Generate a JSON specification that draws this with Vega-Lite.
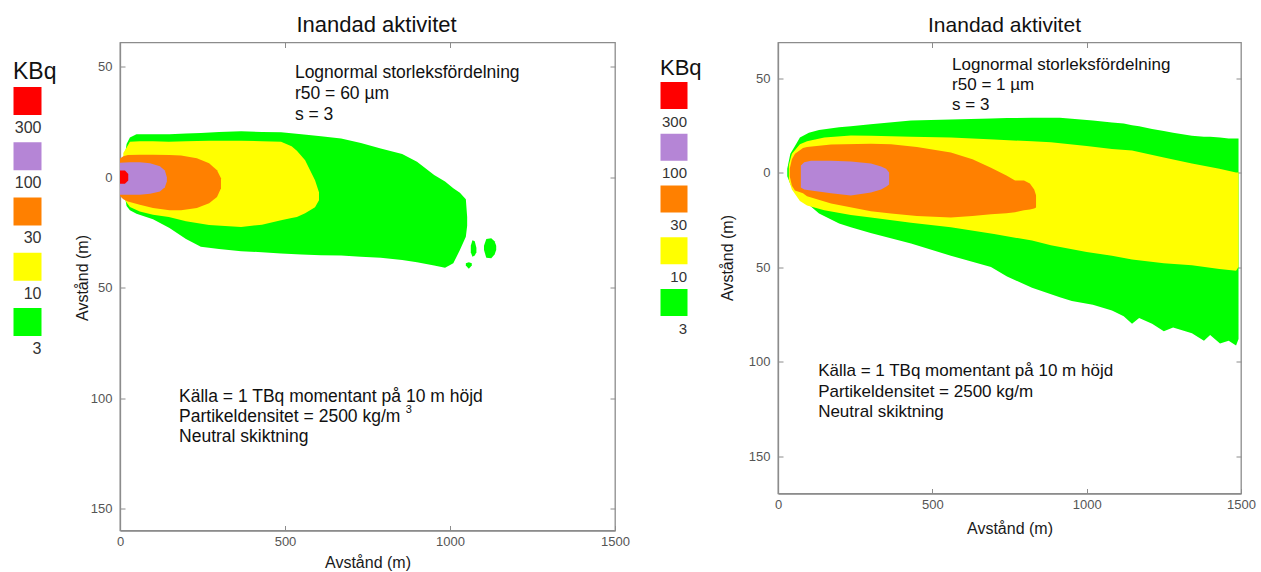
{
  "$schema": "https://vega.github.io/schema/vega-lite/v6.json",
  "background": "white",
  "padding": {"left": 0, "top": 12.5, "right": 0, "bottom": 0},
  "config": {
    "font": "Liberation Sans",
    "view": {"stroke": "#8c8c8c", "strokeWidth": 1.3},
    "axis": {"grid": false, "domainColor": "#8c8c8c", "domainWidth": 1.3, "tickColor": "#8c8c8c", "tickSize": -5, "labelColor": "#555555", "labelFontSize": 13, "titleFontSize": 16, "titleFontWeight": "normal", "titleColor": "#1a1a1a", "labelOverlap": false}
  },
  "datasets": {
    "legend": [
      {"level": "300", "rank": 0},
      {"level": "100", "rank": 1},
      {"level": "30", "rank": 2},
      {"level": "10", "rank": 3},
      {"level": "3", "rank": 4}
    ],
    "contours": [
      {"p":"L","lv":"3","part":"a","x":15,"lo":-10,"hi":9},
      {"p":"L","lv":"3","part":"a","x":20,"lo":-15,"hi":13},
      {"p":"L","lv":"3","part":"a","x":30,"lo":-18,"hi":15},
      {"p":"L","lv":"3","part":"a","x":50,"lo":-19.5,"hi":16.5},
      {"p":"L","lv":"3","part":"a","x":100,"lo":-19.5,"hi":19},
      {"p":"L","lv":"3","part":"a","x":150,"lo":-19.5,"hi":23},
      {"p":"L","lv":"3","part":"a","x":200,"lo":-19.8,"hi":28},
      {"p":"L","lv":"3","part":"a","x":245,"lo":-20,"hi":31.5},
      {"p":"L","lv":"3","part":"a","x":300,"lo":-20.5,"hi":32.5},
      {"p":"L","lv":"3","part":"a","x":367,"lo":-20.8,"hi":33.5},
      {"p":"L","lv":"3","part":"a","x":430,"lo":-20.5,"hi":34},
      {"p":"L","lv":"3","part":"a","x":488,"lo":-20.3,"hi":34.5},
      {"p":"L","lv":"3","part":"a","x":550,"lo":-19.5,"hi":35},
      {"p":"L","lv":"3","part":"a","x":609,"lo":-18.5,"hi":35.3},
      {"p":"L","lv":"3","part":"a","x":670,"lo":-17.5,"hi":35.5},
      {"p":"L","lv":"3","part":"a","x":730,"lo":-15.5,"hi":36},
      {"p":"L","lv":"3","part":"a","x":790,"lo":-13,"hi":36.5},
      {"p":"L","lv":"3","part":"a","x":855,"lo":-10.5,"hi":37.5},
      {"p":"L","lv":"3","part":"a","x":900,"lo":-7,"hi":38.5},
      {"p":"L","lv":"3","part":"a","x":952,"lo":-1,"hi":40},
      {"p":"L","lv":"3","part":"a","x":985,"lo":2,"hi":41},
      {"p":"L","lv":"3","part":"a","x":1010,"lo":5,"hi":39},
      {"p":"L","lv":"3","part":"a","x":1030,"lo":7,"hi":33},
      {"p":"L","lv":"3","part":"a","x":1048,"lo":10,"hi":27},
      {"p":"L","lv":"3","part":"a","x":1052,"lo":18,"hi":22},
      {"p":"L","lv":"3","part":"b","x":1063,"lo":31,"hi":34},
      {"p":"L","lv":"3","part":"b","x":1068,"lo":28.5,"hi":36},
      {"p":"L","lv":"3","part":"b","x":1075,"lo":29,"hi":35.5},
      {"p":"L","lv":"3","part":"b","x":1080,"lo":32,"hi":34},
      {"p":"L","lv":"3","part":"c","x":1103,"lo":31,"hi":33},
      {"p":"L","lv":"3","part":"c","x":1110,"lo":28,"hi":36.5},
      {"p":"L","lv":"3","part":"c","x":1125,"lo":27.7,"hi":36.7},
      {"p":"L","lv":"3","part":"c","x":1135,"lo":29,"hi":35},
      {"p":"L","lv":"3","part":"c","x":1140,"lo":31,"hi":33},
      {"p":"L","lv":"3","part":"d","x":1048,"lo":39,"hi":40},
      {"p":"L","lv":"3","part":"d","x":1057,"lo":38.5,"hi":41.5},
      {"p":"L","lv":"3","part":"d","x":1066,"lo":39,"hi":40},
      {"p":"L","lv":"10","part":"a","x":10,"lo":-11,"hi":9},
      {"p":"L","lv":"10","part":"a","x":20,"lo":-13.5,"hi":11.5},
      {"p":"L","lv":"10","part":"a","x":30,"lo":-16,"hi":13.5},
      {"p":"L","lv":"10","part":"a","x":60,"lo":-16.3,"hi":15.5},
      {"p":"L","lv":"10","part":"a","x":100,"lo":-16.3,"hi":17},
      {"p":"L","lv":"10","part":"a","x":148,"lo":-16,"hi":18},
      {"p":"L","lv":"10","part":"a","x":200,"lo":-16.3,"hi":20},
      {"p":"L","lv":"10","part":"a","x":270,"lo":-16.5,"hi":21.7},
      {"p":"L","lv":"10","part":"a","x":367,"lo":-16.5,"hi":22.6},
      {"p":"L","lv":"10","part":"a","x":430,"lo":-16.3,"hi":21.5},
      {"p":"L","lv":"10","part":"a","x":488,"lo":-16,"hi":19.5},
      {"p":"L","lv":"10","part":"a","x":520,"lo":-14,"hi":18.5},
      {"p":"L","lv":"10","part":"a","x":536,"lo":-12,"hi":18},
      {"p":"L","lv":"10","part":"a","x":561,"lo":-7.7,"hi":16.3},
      {"p":"L","lv":"10","part":"a","x":591,"lo":1.4,"hi":13.6},
      {"p":"L","lv":"10","part":"a","x":603,"lo":6.8,"hi":10.4},
      {"p":"L","lv":"30","part":"a","x":0,"lo":-8.5,"hi":8.5},
      {"p":"L","lv":"30","part":"a","x":10,"lo":-9.5,"hi":10},
      {"p":"L","lv":"30","part":"a","x":24,"lo":-10,"hi":11},
      {"p":"L","lv":"30","part":"a","x":60,"lo":-10.2,"hi":12.5},
      {"p":"L","lv":"30","part":"a","x":100,"lo":-10.2,"hi":14},
      {"p":"L","lv":"30","part":"a","x":150,"lo":-10,"hi":15},
      {"p":"L","lv":"30","part":"a","x":185,"lo":-9.8,"hi":15},
      {"p":"L","lv":"30","part":"a","x":233,"lo":-8.6,"hi":14},
      {"p":"L","lv":"30","part":"a","x":270,"lo":-6.3,"hi":11.8},
      {"p":"L","lv":"30","part":"a","x":294,"lo":-3.2,"hi":9},
      {"p":"L","lv":"30","part":"a","x":306,"lo":0.5,"hi":5},
      {"p":"L","lv":"100","part":"a","x":0,"lo":-6.5,"hi":8},
      {"p":"L","lv":"100","part":"a","x":30,"lo":-6.8,"hi":8},
      {"p":"L","lv":"100","part":"a","x":60,"lo":-6.8,"hi":8},
      {"p":"L","lv":"100","part":"a","x":91,"lo":-6.3,"hi":7.5},
      {"p":"L","lv":"100","part":"a","x":121,"lo":-5,"hi":6.5},
      {"p":"L","lv":"100","part":"a","x":136,"lo":-3,"hi":4.5},
      {"p":"L","lv":"100","part":"a","x":142,"lo":0,"hi":2},
      {"p":"L","lv":"300","part":"a","x":0,"lo":-3,"hi":3},
      {"p":"L","lv":"300","part":"a","x":15,"lo":-3,"hi":3},
      {"p":"L","lv":"300","part":"a","x":25,"lo":-1.5,"hi":1.5},
      {"p":"R","lv":"3","part":"a","x":30,"lo":-2,"hi":2},
      {"p":"R","lv":"3","part":"a","x":40,"lo":-10,"hi":6},
      {"p":"R","lv":"3","part":"a","x":55,"lo":-14,"hi":10},
      {"p":"R","lv":"3","part":"a","x":71,"lo":-18.5,"hi":13},
      {"p":"R","lv":"3","part":"a","x":100,"lo":-21,"hi":17},
      {"p":"R","lv":"3","part":"a","x":133,"lo":-22.5,"hi":21.7},
      {"p":"R","lv":"3","part":"a","x":198,"lo":-24,"hi":27},
      {"p":"R","lv":"3","part":"a","x":236,"lo":-24.5,"hi":29},
      {"p":"R","lv":"3","part":"a","x":300,"lo":-25.5,"hi":32},
      {"p":"R","lv":"3","part":"a","x":431,"lo":-27.5,"hi":37.6},
      {"p":"R","lv":"3","part":"a","x":560,"lo":-28,"hi":44},
      {"p":"R","lv":"3","part":"a","x":690,"lo":-28.6,"hi":50},
      {"p":"R","lv":"3","part":"a","x":742,"lo":-28.8,"hi":55},
      {"p":"R","lv":"3","part":"a","x":823,"lo":-29,"hi":61},
      {"p":"R","lv":"3","part":"a","x":913,"lo":-29,"hi":66},
      {"p":"R","lv":"3","part":"a","x":952,"lo":-28.5,"hi":68},
      {"p":"R","lv":"3","part":"a","x":1020,"lo":-27.5,"hi":70},
      {"p":"R","lv":"3","part":"a","x":1082,"lo":-26.5,"hi":73},
      {"p":"R","lv":"3","part":"a","x":1120,"lo":-26,"hi":76},
      {"p":"R","lv":"3","part":"a","x":1147,"lo":-25,"hi":80},
      {"p":"R","lv":"3","part":"a","x":1170,"lo":-24.5,"hi":77},
      {"p":"R","lv":"3","part":"a","x":1212,"lo":-23,"hi":80},
      {"p":"R","lv":"3","part":"a","x":1250,"lo":-22,"hi":84},
      {"p":"R","lv":"3","part":"a","x":1280,"lo":-21,"hi":82},
      {"p":"R","lv":"3","part":"a","x":1341,"lo":-19.5,"hi":85},
      {"p":"R","lv":"3","part":"a","x":1380,"lo":-19,"hi":89},
      {"p":"R","lv":"3","part":"a","x":1400,"lo":-19,"hi":86},
      {"p":"R","lv":"3","part":"a","x":1432,"lo":-18.5,"hi":90.5},
      {"p":"R","lv":"3","part":"a","x":1460,"lo":-18,"hi":89},
      {"p":"R","lv":"3","part":"a","x":1484,"lo":-18,"hi":91.5},
      {"p":"R","lv":"3","part":"a","x":1492,"lo":-18,"hi":88},
      {"p":"R","lv":"10","part":"a","x":35,"lo":-4,"hi":4},
      {"p":"R","lv":"10","part":"a","x":45,"lo":-10,"hi":9},
      {"p":"R","lv":"10","part":"a","x":71,"lo":-15,"hi":15},
      {"p":"R","lv":"10","part":"a","x":94,"lo":-16.5,"hi":17.5},
      {"p":"R","lv":"10","part":"a","x":150,"lo":-18.5,"hi":20},
      {"p":"R","lv":"10","part":"a","x":236,"lo":-19.6,"hi":22.5},
      {"p":"R","lv":"10","part":"a","x":301,"lo":-19.5,"hi":23.8},
      {"p":"R","lv":"10","part":"a","x":431,"lo":-19,"hi":26.5},
      {"p":"R","lv":"10","part":"a","x":560,"lo":-18.5,"hi":29},
      {"p":"R","lv":"10","part":"a","x":700,"lo":-17.5,"hi":32.5},
      {"p":"R","lv":"10","part":"a","x":823,"lo":-16.5,"hi":36},
      {"p":"R","lv":"10","part":"a","x":884,"lo":-16,"hi":38.5},
      {"p":"R","lv":"10","part":"a","x":1000,"lo":-14,"hi":42},
      {"p":"R","lv":"10","part":"a","x":1082,"lo":-12.5,"hi":44},
      {"p":"R","lv":"10","part":"a","x":1147,"lo":-11.6,"hi":46},
      {"p":"R","lv":"10","part":"a","x":1250,"lo":-8,"hi":48},
      {"p":"R","lv":"10","part":"a","x":1341,"lo":-4.8,"hi":49},
      {"p":"R","lv":"10","part":"a","x":1430,"lo":-2,"hi":51},
      {"p":"R","lv":"10","part":"a","x":1484,"lo":0,"hi":52},
      {"p":"R","lv":"10","part":"a","x":1492,"lo":0,"hi":50},
      {"p":"R","lv":"30","part":"a","x":38,"lo":-2,"hi":2},
      {"p":"R","lv":"30","part":"a","x":45,"lo":-7,"hi":7},
      {"p":"R","lv":"30","part":"a","x":55,"lo":-10,"hi":9.5},
      {"p":"R","lv":"30","part":"a","x":81,"lo":-13,"hi":11},
      {"p":"R","lv":"30","part":"a","x":94,"lo":-13.5,"hi":12.5},
      {"p":"R","lv":"30","part":"a","x":172,"lo":-14.8,"hi":16.4},
      {"p":"R","lv":"30","part":"a","x":301,"lo":-15.3,"hi":20.5},
      {"p":"R","lv":"30","part":"a","x":366,"lo":-15,"hi":21.7},
      {"p":"R","lv":"30","part":"a","x":450,"lo":-13.5,"hi":23},
      {"p":"R","lv":"30","part":"a","x":560,"lo":-10.6,"hi":23.8},
      {"p":"R","lv":"30","part":"a","x":630,"lo":-7,"hi":23},
      {"p":"R","lv":"30","part":"a","x":690,"lo":-2.6,"hi":22},
      {"p":"R","lv":"30","part":"a","x":740,"lo":1.5,"hi":21.5},
      {"p":"R","lv":"30","part":"a","x":768,"lo":4.2,"hi":21},
      {"p":"R","lv":"30","part":"a","x":797,"lo":4.2,"hi":20},
      {"p":"R","lv":"30","part":"a","x":816,"lo":5.8,"hi":19.5},
      {"p":"R","lv":"30","part":"a","x":830,"lo":9,"hi":19},
      {"p":"R","lv":"30","part":"a","x":836,"lo":12,"hi":18.5},
      {"p":"R","lv":"100","part":"a","x":74,"lo":-3.7,"hi":7.9},
      {"p":"R","lv":"100","part":"a","x":85,"lo":-5.5,"hi":9},
      {"p":"R","lv":"100","part":"a","x":107,"lo":-6.3,"hi":9.5},
      {"p":"R","lv":"100","part":"a","x":172,"lo":-6.3,"hi":11},
      {"p":"R","lv":"100","part":"a","x":236,"lo":-5.8,"hi":12.2},
      {"p":"R","lv":"100","part":"a","x":301,"lo":-4.8,"hi":10.6},
      {"p":"R","lv":"100","part":"a","x":334,"lo":-3.2,"hi":9},
      {"p":"R","lv":"100","part":"a","x":350,"lo":-2,"hi":7.5},
      {"p":"R","lv":"100","part":"a","x":360,"lo":0,"hi":6.3}
    ]
  },
  "bounds": "flush",
  "spacing": 20,
  "hconcat": [
    {
      "width": 100, "height": 350,
      "view": {"stroke": null},
      "layer": [
        {
          "data": {"name": "legend"},
          "mark": {"type": "square", "size": 784, "filled": true, "opacity": 1, "strokeWidth": 0},
          "encoding": {
            "x": {"datum": 0, "type": "quantitative", "scale": {"domain": [-0.275, 0.725], "nice": false, "zero": false}, "axis": null},
            "y": {"field": "rank", "type": "quantitative", "scale": {"domain": [-1.0588, 5.276], "reverse": true, "nice": false, "zero": false}, "axis": null},
            "color": {"field": "level", "type": "nominal", "scale": {"domain": ["300", "100", "30", "10", "3"], "range": ["#ff0000", "#b585d6", "#ff8000", "#ffff00", "#00ff00"]}, "legend": null}
          }
        },
        {
          "data": {"name": "legend"},
          "mark": {"type": "text", "align": "right", "baseline": "middle", "dx": 14, "dy": 27, "fontSize": 16, "color": "#333333"},
          "encoding": {
            "x": {"datum": 0, "type": "quantitative"},
            "y": {"field": "rank", "type": "quantitative"},
            "text": {"field": "level", "type": "nominal"}
          }
        },
        {
          "data": {"values": [{"unit": "KBq"}]},
          "mark": {"type": "text", "align": "left", "baseline": "middle", "dx": -14.5, "fontSize": 23, "color": "#111111"},
          "encoding": {
            "x": {"datum": 0, "type": "quantitative"},
            "y": {"datum": -0.516, "type": "quantitative"},
            "text": {"field": "unit", "type": "nominal"}
          }
        }
      ]
    },
    {
      "width": 495, "height": 488,
      "title": {"text": "Inandad aktivitet", "fontSize": 22, "fontWeight": "normal", "color": "#111111", "offset": 5, "dx": 9},
      "data": {"name": "contours"},
      "transform": [{"filter": "datum.p == 'L'"}],
      "resolve": {"axis": {"x": "independent", "y": "independent"}},
      "layer": [
        {
          "transform": [{"filter": "datum.lv == '3'"}],
          "mark": {"type": "area", "interpolate": "linear"},
          "encoding": {
            "x": {"field": "x", "type": "quantitative", "scale": {"domain": [0, 1500], "nice": false, "zero": false},
                  "axis": {"orient": "bottom", "values": [0, 500, 1000, 1500], "format": "d", "labelFlush": false, "labelPadding": 10, "title": "Avstånd (m)", "titleY": 32, "titleBaseline": "middle"}},
            "y": {"field": "lo", "type": "quantitative", "stack": null, "scale": {"domain": [-61, 160], "reverse": true, "nice": false, "zero": false},
                  "axis": {"orient": "left", "values": [-50, 0, 50, 100, 150], "labelExpr": "abs(datum.value)", "labelPadding": 13, "title": "Avstånd (m)", "titleX": -38, "titleY": 235, "titleBaseline": "middle", "titleAlign": "center"}},
            "y2": {"field": "hi"},
            "detail": {"field": "part"},
            "color": {"field": "lv", "type": "nominal", "scale": {"domain": ["300", "100", "30", "10", "3"], "range": ["#ff0000", "#b585d6", "#ff8000", "#ffff00", "#00ff00"]}, "legend": null}
          }
        },
        {
          "transform": [{"filter": "datum.lv == '10'"}],
          "mark": {"type": "area", "interpolate": "linear"},
          "encoding": {
            "x": {"field": "x", "type": "quantitative", "axis": null},
            "y": {"field": "lo", "type": "quantitative", "stack": null, "axis": null},
            "y2": {"field": "hi"},
            "color": {"field": "lv", "type": "nominal", "legend": null}
          }
        },
        {
          "transform": [{"filter": "datum.lv == '30'"}],
          "mark": {"type": "area", "interpolate": "linear"},
          "encoding": {
            "x": {"field": "x", "type": "quantitative", "axis": null},
            "y": {"field": "lo", "type": "quantitative", "stack": null, "axis": null},
            "y2": {"field": "hi"},
            "color": {"field": "lv", "type": "nominal", "legend": null}
          }
        },
        {
          "transform": [{"filter": "datum.lv == '100'"}],
          "mark": {"type": "area", "interpolate": "linear"},
          "encoding": {
            "x": {"field": "x", "type": "quantitative", "axis": null},
            "y": {"field": "lo", "type": "quantitative", "stack": null, "axis": null},
            "y2": {"field": "hi"},
            "color": {"field": "lv", "type": "nominal", "legend": null}
          }
        },
        {
          "transform": [{"filter": "datum.lv == '300'"}],
          "mark": {"type": "area", "interpolate": "linear"},
          "encoding": {
            "x": {"field": "x", "type": "quantitative", "axis": null},
            "y": {"field": "lo", "type": "quantitative", "stack": null, "axis": null},
            "y2": {"field": "hi"},
            "color": {"field": "lv", "type": "nominal", "legend": null}
          }
        },
        {
          "data": {"values": [{}]},
          "mark": {"type": "text", "text": ["Lognormal storleksfördelning", "r50 = 60 µm", "s = 3"], "align": "left", "baseline": "alphabetic", "fontSize": 17.5, "lineHeight": 21, "color": "#111111"},
          "encoding": {
            "x": {"datum": 530, "type": "quantitative", "axis": {"orient": "top", "values": [500, 1000], "labels": false, "domain": false, "title": null}},
            "y": {"datum": -44.7, "type": "quantitative", "axis": {"orient": "right", "values": [-50, 0, 50, 100, 150], "labels": false, "domain": false, "title": null}}
          }
        },
        {
          "data": {"values": [{}]},
          "mark": {"type": "text", "text": ["Källa = 1 TBq momentant på 10 m höjd", "Partikeldensitet = 2500 kg/m", "Neutral skiktning"], "align": "left", "baseline": "alphabetic", "fontSize": 17.5, "lineHeight": 20, "color": "#111111"},
          "encoding": {
            "x": {"datum": 179, "type": "quantitative", "axis": null},
            "y": {"datum": 101.6, "type": "quantitative", "axis": null}
          }
        },
        {
          "data": {"values": [{}]},
          "mark": {"type": "text", "text": "3", "align": "left", "baseline": "alphabetic", "fontSize": 11, "color": "#111111"},
          "encoding": {
            "x": {"datum": 866, "type": "quantitative", "axis": null},
            "y": {"datum": 107, "type": "quantitative", "axis": null}
          }
        }
      ]
    },
    {
      "width": 123, "height": 350,
      "view": {"stroke": null},
      "layer": [
        {
          "data": {"name": "legend"},
          "mark": {"type": "square", "size": 729, "filled": true, "opacity": 1, "strokeWidth": 0},
          "encoding": {
            "x": {"datum": 0, "type": "quantitative", "scale": {"domain": [-0.3171, 0.6829], "nice": false, "zero": false}, "axis": null},
            "y": {"field": "rank", "type": "quantitative", "scale": {"domain": [-1.0242, 5.7391], "reverse": true, "nice": false, "zero": false}, "axis": null},
            "color": {"field": "level", "type": "nominal", "scale": {"domain": ["300", "100", "30", "10", "3"], "range": ["#ff0000", "#b585d6", "#ff8000", "#ffff00", "#00ff00"]}, "legend": null}
          }
        },
        {
          "data": {"name": "legend"},
          "mark": {"type": "text", "align": "right", "baseline": "middle", "dx": 13, "dy": 26, "fontSize": 15, "color": "#333333"},
          "encoding": {
            "x": {"datum": 0, "type": "quantitative"},
            "y": {"field": "rank", "type": "quantitative"},
            "text": {"field": "level", "type": "nominal"}
          }
        },
        {
          "data": {"values": [{"unit": "KBq"}]},
          "mark": {"type": "text", "align": "left", "baseline": "middle", "dx": -14, "fontSize": 22, "color": "#111111"},
          "encoding": {
            "x": {"datum": 0, "type": "quantitative"},
            "y": {"datum": -0.522, "type": "quantitative"},
            "text": {"field": "unit", "type": "nominal"}
          }
        }
      ]
    },
    {
      "width": 463, "height": 451,
      "title": {"text": "Inandad aktivitet", "fontSize": 21, "fontWeight": "normal", "color": "#111111", "offset": 6, "dx": -5},
      "data": {"name": "contours"},
      "transform": [{"filter": "datum.p == 'R'"}],
      "resolve": {"axis": {"x": "independent", "y": "independent"}},
      "layer": [
        {
          "transform": [{"filter": "datum.lv == '3'"}],
          "mark": {"type": "area", "interpolate": "linear"},
          "encoding": {
            "x": {"field": "x", "type": "quantitative", "scale": {"domain": [0, 1500], "nice": false, "zero": false},
                  "axis": {"orient": "bottom", "values": [0, 500, 1000, 1500], "format": "d", "labelFlush": false, "labelPadding": 10, "title": "Avstånd (m)", "titleY": 35, "titleBaseline": "middle"}},
            "y": {"field": "lo", "type": "quantitative", "stack": null, "scale": {"domain": [-68.8, 169.8], "reverse": true, "nice": false, "zero": false},
                  "axis": {"orient": "left", "values": [-50, 0, 50, 100, 150], "labelExpr": "abs(datum.value)", "labelPadding": 13, "title": "Avstånd (m)", "titleX": -51, "titleY": 215, "titleBaseline": "middle", "titleAlign": "center"}},
            "y2": {"field": "hi"},
            "detail": {"field": "part"},
            "color": {"field": "lv", "type": "nominal", "scale": {"domain": ["300", "100", "30", "10", "3"], "range": ["#ff0000", "#b585d6", "#ff8000", "#ffff00", "#00ff00"]}, "legend": null}
          }
        },
        {
          "transform": [{"filter": "datum.lv == '10'"}],
          "mark": {"type": "area", "interpolate": "linear"},
          "encoding": {
            "x": {"field": "x", "type": "quantitative", "axis": null},
            "y": {"field": "lo", "type": "quantitative", "stack": null, "axis": null},
            "y2": {"field": "hi"},
            "color": {"field": "lv", "type": "nominal", "legend": null}
          }
        },
        {
          "transform": [{"filter": "datum.lv == '30'"}],
          "mark": {"type": "area", "interpolate": "linear"},
          "encoding": {
            "x": {"field": "x", "type": "quantitative", "axis": null},
            "y": {"field": "lo", "type": "quantitative", "stack": null, "axis": null},
            "y2": {"field": "hi"},
            "color": {"field": "lv", "type": "nominal", "legend": null}
          }
        },
        {
          "transform": [{"filter": "datum.lv == '100'"}],
          "mark": {"type": "area", "interpolate": "linear"},
          "encoding": {
            "x": {"field": "x", "type": "quantitative", "axis": null},
            "y": {"field": "lo", "type": "quantitative", "stack": null, "axis": null},
            "y2": {"field": "hi"},
            "color": {"field": "lv", "type": "nominal", "legend": null}
          }
        },
        {
          "data": {"values": [{}]},
          "mark": {"type": "text", "text": ["Lognormal storleksfördelning", "r50 = 1 µm", "s = 3"], "align": "left", "baseline": "alphabetic", "fontSize": 17, "lineHeight": 20, "color": "#111111"},
          "encoding": {
            "x": {"datum": 564, "type": "quantitative", "axis": {"orient": "top", "values": [500, 1000], "labels": false, "domain": false, "title": null}},
            "y": {"datum": -54.5, "type": "quantitative", "axis": {"orient": "right", "values": [-50, 0, 50, 100, 150], "labels": false, "domain": false, "title": null}}
          }
        },
        {
          "data": {"values": [{}]},
          "mark": {"type": "text", "text": ["Källa = 1 TBq momentant på 10 m höjd", "Partikeldensitet = 2500 kg/m", "Neutral skiktning"], "align": "left", "baseline": "alphabetic", "fontSize": 17, "lineHeight": 20.3, "color": "#111111"},
          "encoding": {
            "x": {"datum": 130, "type": "quantitative", "axis": null},
            "y": {"datum": 107.9, "type": "quantitative", "axis": null}
          }
        }
      ]
    }
  ]
}
